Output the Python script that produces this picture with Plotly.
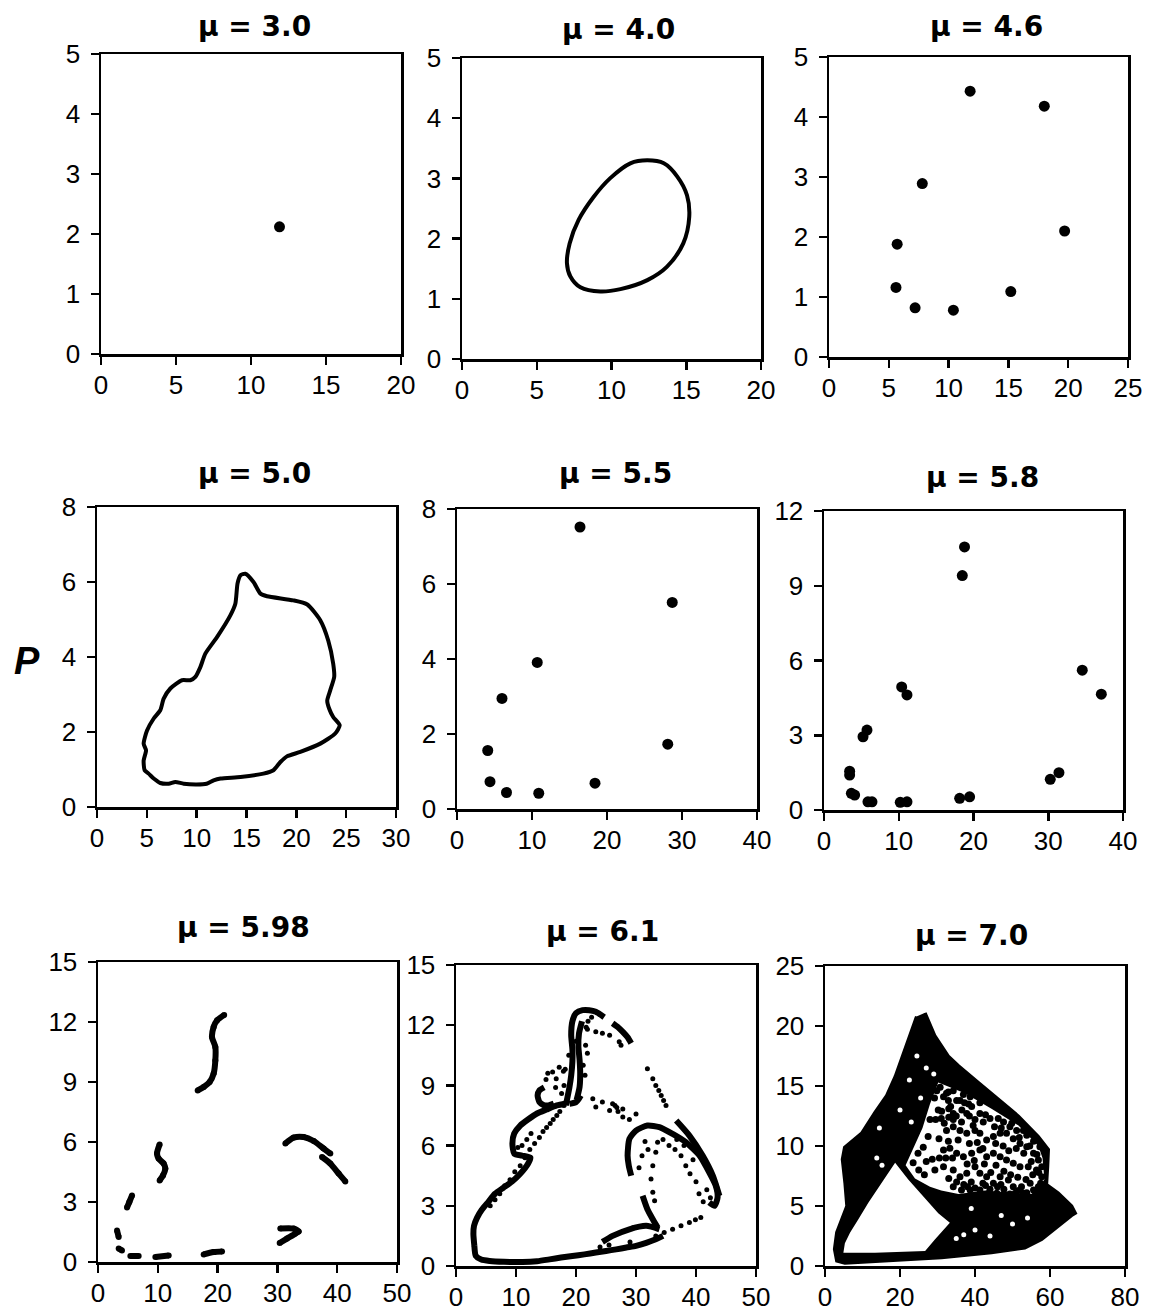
import plotly.graph_objects as go

W, H = 1151, 1311

# ---------------- data ----------------
TITLES = ["μ = 3.0", "μ = 4.0", "μ = 4.6", "μ = 5.0", "μ = 5.5", "μ = 5.8", "μ = 5.98", "μ = 6.1", "μ = 7.0"]
X_MAX = [20, 20, 25, 30, 40, 40, 50, 50, 80]
X_STEP = [5, 5, 5, 5, 10, 10, 10, 10, 20]
Y_MAX = [5, 5, 5, 8, 8, 12, 15, 15, 25]
Y_STEP = [1, 1, 1, 2, 2, 3, 3, 3, 5]
Y_LABEL = "P"

P1_X = [11.9]
P1_Y = [2.12]

P2_X = [7.02, 7.25, 7.92, 9.25, 10.6, 12.4, 13.7, 14.8, 15.2, 15.05, 14.4, 13.5, 12.4, 11.26, 9.9, 8.8, 7.8, 7.2, 7.02]
P2_Y = [1.59, 1.37, 1.19, 1.12, 1.16, 1.31, 1.53, 1.92, 2.36, 2.72, 3.03, 3.25, 3.30, 3.25, 3.0, 2.69, 2.31, 1.92, 1.59]

P3_X = [11.8, 18.0, 7.8, 19.7, 5.7, 5.6, 7.2, 10.4, 15.2]
P3_Y = [4.43, 4.18, 2.89, 2.10, 1.88, 1.16, 0.82, 0.78, 1.09]

P4_X = [14.88, 15.7, 16.4, 17.06, 19.7, 21.1, 22.4, 23.2, 23.7, 23.8, 23.4, 23.1, 23.3, 23.7, 24.35, 23.9, 22.4,
        20.4, 19.06, 18.4, 17.7, 16.7, 14.4, 12.4, 11.7, 11.0, 10.0, 8.7, 7.86, 7.19, 6.35, 5.69, 5.18, 4.78, 4.68,
        4.92, 4.68, 5.02, 5.69, 6.35, 6.69, 7.36, 8.53, 9.36, 9.87, 10.37, 10.87, 12.04, 13.38, 13.88, 14.1, 14.4, 14.88]
P4_Y = [6.22, 6.0, 5.69, 5.62, 5.51, 5.4, 4.98, 4.44, 3.82, 3.47, 3.11, 2.84, 2.62, 2.4, 2.18, 1.96, 1.69,
        1.47, 1.35, 1.2, 0.98, 0.89, 0.80, 0.76, 0.71, 0.62, 0.60, 0.62, 0.67, 0.62, 0.64, 0.76, 0.89, 0.98, 1.24,
        1.51, 1.69, 2.04, 2.36, 2.58, 2.89, 3.16, 3.38, 3.38, 3.47, 3.73, 4.09, 4.53, 5.11, 5.42, 5.96, 6.18, 6.22]

P5_X = [16.4, 28.7, 10.7, 6.0, 4.1, 4.4, 6.6, 10.9, 18.4, 28.1]
P5_Y = [7.52, 5.51, 3.91, 2.95, 1.56, 0.73, 0.44, 0.42, 0.69, 1.73]

P6_X = [18.8, 18.5, 34.55, 37.1, 10.39, 11.1, 5.75, 5.22, 3.43, 3.43, 3.66, 4.1, 5.88, 6.42, 10.2, 11.1, 18.15, 19.48, 30.27, 31.43]
P6_Y = [10.56, 9.41, 5.61, 4.65, 4.94, 4.62, 3.21, 2.94, 1.56, 1.40, 0.67, 0.60, 0.33, 0.33, 0.31, 0.33, 0.47, 0.53, 1.23, 1.50]

# mu = 5.98 : short arcs (None separates arcs)
P7_X = [16.67, 17.67, 18.67, 19.34, 19.62, 19.62, 19.06, 19.34, 19.9, 21.1, None,
        10.31, 9.87, 10.14, 10.98, 11.26, 10.87, 10.31, None,
        5.69, 5.24, 4.85, None,
        3.18, 3.46, None,
        3.46, 4.01, None,
        5.41, 6.8, None,
        9.59, 11.82, None,
        17.67, 19.34, 20.74, None,
        30.38, 31.6, 33.0, 33.56, 32.72, 30.49, None,
        31.33, 32.72, 34.39, 36.07, 37.74, 38.85, None,
        37.46, 38.85, 40.25, 41.36]
P7_Y = [8.58, 8.75, 9.0, 9.42, 10.08, 10.75, 11.25, 11.75, 12.08, 12.35, None,
        5.88, 5.42, 5.17, 4.92, 4.67, 4.33, 4.08, None,
        3.33, 3.0, 2.72, None,
        1.58, 1.25, None,
        0.67, 0.58, None,
        0.30, 0.30, None,
        0.25, 0.33, None,
        0.38, 0.5, 0.53, None,
        0.95, 1.17, 1.42, 1.53, 1.67, 1.67, None,
        5.92, 6.22, 6.25, 6.05, 5.67, 5.42, None,
        5.25, 4.92, 4.42, 4.03]

# mu = 6.1 : dense strands
P8_BAND_X = [3.06, 3.3, 4.2, 5.6, 8.0, 11.1, 13.5, 15.6, 17.5, 19.4, 21.4, 23.3, 25.0, 26.7, 28.4, 30.0, 31.7, 33.3, 34.5, None,
             24.4, 26.1, 28.9, 31.7, 33.9, None,
             3.06, 2.9, 3.0, 3.5, 4.3, 5.4, 6.5, 7.9, 9.3, 10.7, 12.0, 12.4, 11.0, 9.7, 9.4, 9.7, 10.7, 12.0, 13.5, 15.1, 16.8, 18.3, None,
             18.3, 18.9, 19.2, 19.4, 19.4, 19.2, 19.4, 20.0, 21.1, 22.2, 23.3, 24.7, None,
             20.1, 20.6, 20.7, 20.6, 20.4, 20.5, 21.0, None,
             26.1, 27.0, 27.8, 28.6, 29.2, None,
             14.7, 13.9, 13.6, 13.9, 14.6, 15.3, 16.3, None,
             20.8, 20.4, 20.0, 18.9, None,
             29.2, 28.8, 28.6, 28.9, 30.0, 31.9, 33.9, 36.1, 38.3, 40.6, 42.2, 43.3, 43.6, 43.1, 42.2, None,
             36.7, 38.9, 41.1, 42.8, 43.9, None,
             31.1, 31.9, 32.8, 33.6]
P8_BAND_Y = [1.0, 0.5, 0.32, 0.25, 0.21, 0.2, 0.24, 0.33, 0.42, 0.5, 0.58, 0.67, 0.75, 0.83, 0.92, 1.0, 1.15, 1.33, 1.5, None,
             1.2, 1.5, 1.83, 2.0, 1.83, None,
             1.0, 1.6, 2.0, 2.4, 2.8, 3.2, 3.6, 3.9, 4.2, 4.6, 5.1, 5.4, 5.5, 5.6, 6.1, 6.6, 7.0, 7.3, 7.6, 7.8, 8.0, 8.1, None,
             8.0, 8.9, 9.5, 10.2, 10.8, 11.5, 12.2, 12.6, 12.75, 12.75, 12.67, 12.4, None,
             8.27, 8.93, 9.6, 10.26, 10.93, 11.59, 12.2, None,
             12.1, 11.9, 11.67, 11.4, 11.1, None,
             8.9, 8.75, 8.5, 8.17, 8.02, 8.0, 8.1, None,
             8.5, 8.3, 8.17, 8.08, None,
             4.5, 5.0, 5.5, 6.33, 6.75, 7.0, 6.92, 6.58, 6.17, 5.5, 4.67, 4.0, 3.42, 3.0, 3.17, None,
             7.25, 6.5, 5.5, 4.5, 3.5, None,
             3.5, 2.83, 2.33, 1.92]

# mu = 6.1 : scattered points
P8_DOT_X = [5.7, 6.5, 7.3, 8.1, 9.0, 9.8, 10.7, 11.5, 12.3, 13.1, 13.9, 14.5, 15.1, 15.7, 16.2, 16.8, 17.3, 18.0,
            33.3, 34.7, 36.1, 37.5, 38.9, 39.9, 40.8,
            22.8, 24.4, 26.1, 27.8, 30.0, 23.3, 25.6, 27.8, 28.9, 26.5, 27.0, 26.8,
            31.9, 32.8, 33.3, 33.8, 34.2, 34.6, 35.0,
            21.7, 23.3, 24.4, 25.6, 27.2, 27.5, 22.0, 21.9, 22.6,
            16.1, 17.2, 15.3, 16.7, 17.9, 15.0,
            33.6, 33.3, 32.8, 32.5, 32.8, 33.1, 31.5, 32.0, 31.0, 30.5, 34.5, 35.5, 36.5, 37.5,
            38.3, 39.0, 40.0, 40.5, 41.2, 39.5, 38.0, 36.8, 41.8, 42.4,
            18.0, 18.2, 21.2, 21.5, 20.0, 21.6, 18.8, 21.9, 17.6, 16.6,
            11.0, 11.8, 12.5, 10.3, 29.0, 29.5, 24.0, 25.5]
P8_DOT_Y = [3.0, 3.3, 3.6, 4.0, 4.3, 4.7, 5.0, 5.4, 5.8, 6.1, 6.4, 6.7, 6.9, 7.1, 7.3, 7.5, 7.7, 8.0,
            1.5, 1.67, 1.83, 2.0, 2.17, 2.3, 2.42,
            8.33, 8.17, 8.08, 7.83, 7.58, 7.92, 7.75, 7.42, 7.3, 8.0, 7.7, 7.9,
            9.83, 9.33, 9.0, 8.75, 8.5, 8.25, 8.0,
            11.9, 11.67, 11.6, 11.5, 11.17, 11.0, 12.2, 11.8, 12.4,
            9.67, 9.9, 9.6, 9.33, 9.7, 9.3,
            6.17, 5.67, 5.0, 4.33, 3.67, 3.25, 6.2, 5.8, 5.5, 4.9, 6.3, 6.0, 5.8, 5.5,
            5.0, 4.6, 4.2, 3.6, 3.2, 5.3, 6.0, 6.3, 3.8, 3.4,
            9.0, 9.8, 10.0, 9.5, 11.2, 11.0, 10.5, 10.6, 8.6, 8.9,
            6.0, 6.3, 6.6, 5.9, 1.2, 1.9, 0.95, 1.05]

# mu = 7.0 : outline of the dense cloud, empty pocket, sparse zone, sparse points, gaps
P9_HULL_X = [26.7, 29.3, 32.9, 35.6, 40.9, 46.2, 51.6, 56.9, 59.6, 59.4, 59.1, 62.2, 65.8, 66.8, 65.8, 62.2, 57.8,
             53.3, 44.4, 31.1, 17.8, 5.3, 3.1, 2.5, 3.1, 4.4, 5.8, 5.3, 4.6, 5.2, 9.8, 13.3, 16.4, 18.7, 21.3, 24.4]
P9_HULL_Y = [21.1, 19.2, 17.5, 16.7, 15.3, 13.9, 12.5, 10.8, 9.7, 8.3, 6.8, 6.1, 5.0, 4.4, 4.2, 3.3, 2.2,
             1.5, 1.1, 0.69, 0.42, 0.22, 0.42, 1.4, 2.8, 3.9, 5.0, 6.9, 8.9, 9.9, 11.1, 12.8, 14.2, 15.8, 18.1, 20.8]
P9_HOLE_X = [5.3, 4.9, 13.3, 26.7, 29.3, 33.3, 30.2, 26.7, 22.2, 18.7, 15.1, 11.6, 8.9, 6.7]
P9_HOLE_Y = [1.9, 1.1, 1.1, 1.25, 2.2, 3.6, 4.4, 5.6, 7.2, 8.6, 6.9, 5.3, 3.9, 2.8]
P9_SPARSE_X = [30.2, 37.3, 44.4, 51.6, 56.9, 58.0, 58.5, 56.0, 49.8, 42.7, 35.6, 31.0, 28.0, 24.0, 21.5, 23.5, 26.0, 28.0]
P9_SPARSE_Y = [15.3, 14.4, 13.1, 11.7, 10.0, 9.0, 7.2, 6.0, 6.1, 6.3, 6.0, 6.3, 6.6, 7.3, 8.4, 9.8, 11.5, 13.5]
P9_DOT_X = [32.9, 35.1, 39.1, 34.2, 31.1, 34.2, 36.4, 40.0, 42.2, 44.0, 46.2, 47.6, 49.3, 51.1, 52.9, 53.8, 55.6, 57.3,
            32.4, 34.2, 36.0, 37.8, 40.0, 41.3, 43.1, 44.9, 46.7, 48.4, 50.2, 52.0, 53.8, 55.6, 56.9, 57.8,
            31.6, 33.3, 35.1, 36.9, 39.1, 41.3, 43.1, 44.9, 46.7, 48.4, 50.2, 52.0, 54.2, 56.4, 57.8,
            29.3, 31.6, 34.2, 36.0, 37.8, 40.0, 41.3, 43.1, 44.9, 46.7, 48.9, 50.2, 52.4, 54.7, 56.9,
            34.2, 36.4, 38.7, 41.3, 43.6, 45.8, 48.4, 50.7, 52.9, 55.6,
            29.8, 31.6, 32.9, 30.7, 34.2, 36.9, 32.4, 36.0, 38.7, 41.3, 37.8, 41.3,
            30.2, 31.0, 33.5, 35.0, 37.2, 38.3, 33.0, 36.5, 29.5, 31.8, 33.0, 38.5, 39.5, 42.8, 45.2, 47.0, 49.8,
            51.8, 54.6, 56.5, 45.5, 47.5, 49.0, 51.0, 53.0, 55.0, 57.0, 30.4, 32.9, 35.5, 38.5, 40.6, 42.1, 37.9,
            39.8, 42.5, 45.6, 47.7, 49.5, 51.4, 53.6, 55.4, 57.5, 33.0, 35.1, 37.0, 39.0, 42.1, 44.0, 46.0, 47.7,
            49.3, 51.6, 53.8, 56.0, 30.5, 32.2, 28.6, 34.0, 44.2, 40.0, 42.8, 46.9, 38.0,
            23.5, 25.0, 26.5, 24.8, 26.2, 27.5, 27.0, 28.0, 29.2]
P9_DOT_Y = [13.8, 13.8, 13.3, 12.7, 12.9, 12.2, 12.0, 12.2, 12.0, 12.3, 12.3, 12.0, 11.6, 11.3, 11.3, 10.9, 10.4, 9.94,
            11.3, 11.6, 11.3, 11.06, 11.3, 11.06, 10.5, 10.8, 11.06, 11.06, 10.6, 10.2, 9.94, 9.39, 8.83, 8.28,
            9.67, 9.81, 9.39, 9.1, 9.39, 9.67, 9.1, 9.39, 9.1, 8.83, 8.56, 8.28, 8.28, 8.0, 7.44,
            8.0, 8.28, 8.0, 7.44, 7.72, 8.28, 7.72, 7.44, 6.89, 7.44, 7.17, 6.61, 6.61, 6.89, 6.61,
            6.61, 6.33, 6.33, 6.33, 6.06, 6.06, 5.92, 6.06, 6.06, 6.33,
            14.6, 14.1, 14.5, 14.9, 14.6, 14.3, 14.4, 13.8, 14.1, 13.6, 12.7, 12.7,
            13.0, 12.3, 13.3, 12.5, 13.6, 13.5, 13.1, 13.0, 12.2, 11.9, 12.4, 12.5, 11.7, 12.6, 11.6, 11.5, 11.9,
            10.7, 10.0, 9.3, 10.2, 10.0, 9.6, 9.8, 9.4, 8.7, 7.8, 10.6, 10.4, 10.5, 10.2, 10.3, 9.8, 8.5,
            8.8, 8.5, 8.4, 7.9, 7.6, 7.4, 7.2, 7.6, 6.9, 7.3, 7.0, 6.8, 7.0, 6.9, 6.4, 6.6, 6.4,
            6.0, 6.3, 6.1, 6.2, 9.0, 9.0, 8.9, 9.0, 7.8, 6.5, 6.7, 6.8, 6.6,
            8.6, 8.0, 7.6, 9.4, 9.9, 10.8, 8.7, 12.2, 14.0]
P9_GAP_X = [24.5, 27.0, 22.5, 25.5, 20.0, 14.5, 13.8, 15.2, 35.0, 37.0, 40.0, 44.0, 50.0, 47.0, 54.0, 39.0, 23.0, 29.0]
P9_GAP_Y = [17.5, 16.5, 15.5, 14.0, 13.0, 11.5, 9.0, 8.4, 2.3, 2.6, 3.0, 2.5, 3.5, 4.2, 4.0, 4.8, 12.0, 16.0]

# ---------------- layout (page-pixel boxes of the nine plot areas) ----------------
BOXES = [(101, 401, 54, 354), (462, 761, 58, 359), (829, 1128, 57, 357),
         (97, 396, 507, 807), (457, 757, 509, 809), (824, 1123, 511, 810),
         (98, 397, 962, 1262), (456, 756, 965, 1266), (825, 1125, 966, 1266)]
TITLE_POS = [(254, 26), (619, 29), (986, 26), (254, 473), (615, 473), (982, 478), (243, 927), (602, 931), (971, 935)]
YLABEL_POS = (27, 661)

TICK_FONT = dict(family="Liberation Sans, Arial, sans-serif", size=26, color="black")
BLACK = "black"


def px(x):
    return x / W


def py(y):
    return 1 - y / H


fig = go.Figure()


def ax(i):
    return ("x" if i == 1 else f"x{i}"), ("y" if i == 1 else f"y{i}")


def add(i, **kw):
    xa, ya = ax(i)
    fig.add_trace(go.Scatter(xaxis=xa, yaxis=ya, showlegend=False, hoverinfo="skip", **kw))


dot = dict(color=BLACK, size=11, line=dict(width=0))
add(1, x=P1_X, y=P1_Y, mode="markers", marker=dot)
add(2, x=P2_X, y=P2_Y, mode="lines", line=dict(color=BLACK, width=4, shape="spline", smoothing=1.0))
add(3, x=P3_X, y=P3_Y, mode="markers", marker=dot)
add(4, x=P4_X, y=P4_Y, mode="lines", line=dict(color=BLACK, width=4, shape="spline", smoothing=0.6))
add(5, x=P5_X, y=P5_Y, mode="markers", marker=dot)
add(6, x=P6_X, y=P6_Y, mode="markers", marker=dot)
add(7, x=P7_X, y=P7_Y, mode="lines+markers", connectgaps=False,
    line=dict(color=BLACK, width=6, shape="spline", smoothing=0.8),
    marker=dict(color=BLACK, size=6, line=dict(width=0)))
add(8, x=P8_BAND_X, y=P8_BAND_Y, mode="lines", connectgaps=False,
    line=dict(color=BLACK, width=6, shape="spline", smoothing=0.6))
add(8, x=P8_DOT_X, y=P8_DOT_Y, mode="markers", marker=dict(color=BLACK, size=5, line=dict(width=0)))
add(9, x=P9_HULL_X, y=P9_HULL_Y, mode="lines", fill="toself", fillcolor=BLACK, line=dict(color=BLACK, width=3))
add(9, x=P9_HOLE_X, y=P9_HOLE_Y, mode="lines", fill="toself", fillcolor="white", line=dict(color="white", width=0))
add(9, x=P9_SPARSE_X, y=P9_SPARSE_Y, mode="lines", fill="toself", fillcolor="white", line=dict(color="white", width=0))
add(9, x=P9_GAP_X, y=P9_GAP_Y, mode="markers", marker=dict(color="white", size=5, line=dict(width=0)))
add(9, x=P9_DOT_X, y=P9_DOT_Y, mode="markers", marker=dict(color=BLACK, size=7, line=dict(width=0)))

common = dict(showline=True, linecolor=BLACK, linewidth=2.5, mirror=True, ticks="outside", ticklen=8,
              tickwidth=2.5, tickcolor=BLACK, showgrid=False, zeroline=False, tickfont=TICK_FONT,
              fixedrange=True, automargin=False)

layout = dict(width=W, height=H, autosize=False,
              margin=dict(l=0, r=0, t=0, b=0, pad=0, autoexpand=False),
              paper_bgcolor="white", plot_bgcolor="white", showlegend=False, hovermode=False)
annotations = []
for k in range(9):
    i = k + 1
    l, r, t, b = BOXES[k]
    xa, ya = ax(i)
    xkey = "xaxis" if i == 1 else f"xaxis{i}"
    ykey = "yaxis" if i == 1 else f"yaxis{i}"
    xt = list(range(0, X_MAX[k] + 1, X_STEP[k]))
    yt = list(range(0, Y_MAX[k] + 1, Y_STEP[k]))
    layout[xkey] = dict(domain=[px(l), px(r)], range=[0, X_MAX[k]], tickvals=xt, anchor=ya,
                        ticklabelstandoff=-2, **common)
    layout[ykey] = dict(domain=[py(b), py(t)], range=[0, Y_MAX[k]], tickvals=yt, anchor=xa,
                        ticklabelstandoff=5, **common)
    tx, ty = TITLE_POS[k]
    annotations.append(dict(text=f"<b>{TITLES[k]}</b>", x=px(tx), y=py(ty), xref="paper", yref="paper",
                            xanchor="center", yanchor="middle", showarrow=False,
                            font=dict(family="DejaVu Sans, sans-serif", size=28, color=BLACK)))
annotations.append(dict(text=f"<b><i>{Y_LABEL}</i></b>", x=px(YLABEL_POS[0]), y=py(YLABEL_POS[1]),
                        xref="paper", yref="paper", xanchor="center", yanchor="middle", showarrow=False,
                        font=dict(family="Liberation Sans, Arial, sans-serif", size=38, color=BLACK)))
layout["annotations"] = annotations
fig.update_layout(**layout)
# remove the page's default body margin so the figure sits at the window's top-left corner
fig.write_html("out.html", config={"displayModeBar": False, "staticPlot": True},
               post_script="document.body.style.margin='0px';document.body.style.overflow='hidden';")
